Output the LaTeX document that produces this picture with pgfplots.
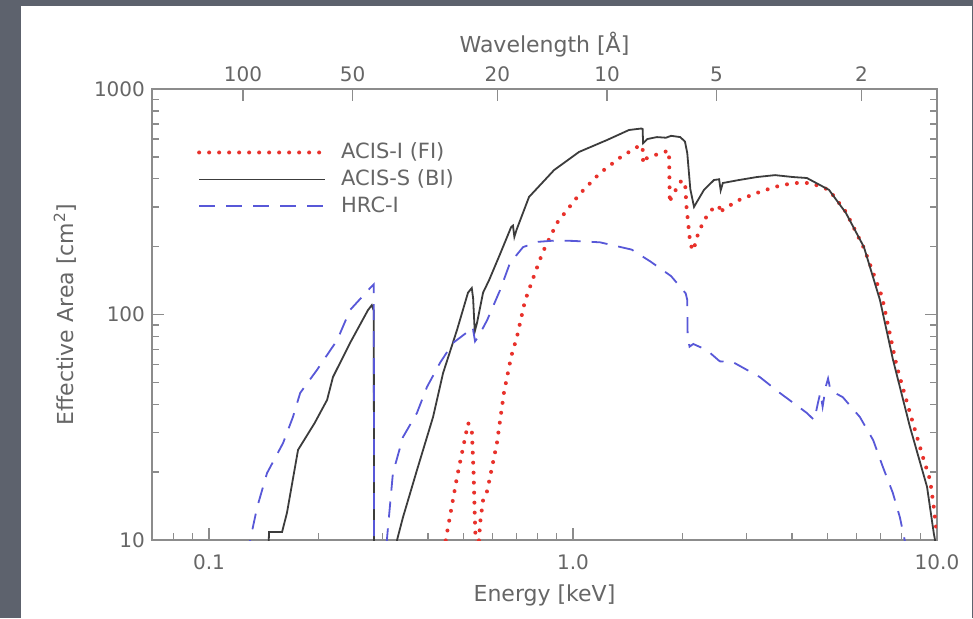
\documentclass[border=0pt]{standalone}
\usepackage{fontspec}
\setmainfont{DejaVu Sans}
\usepackage{pgfplots}
\pgfplotsset{compat=1.18}
\definecolor{bgslate}{HTML}{5D626D}
\definecolor{txtg}{HTML}{666666}
\definecolor{axg}{HTML}{8C8C8C}
\definecolor{redc}{HTML}{E8312B}
\definecolor{bluec}{HTML}{5858D8}
\definecolor{blk}{HTML}{3C3C3C}

\pgfplotstableread{
E A
0.1455 9.0
0.1462 10.85
0.1587 10.85
0.1637 13.2
0.1756 25.1
0.195 33
0.211 41.8
0.219 52.8
0.244 74.8
0.2734 104.7
0.2800 110
0.2835 104
0.2842 5
0.3255 5
0.3285 10
0.341 12.6
0.3726 20.4
0.4125 35.1
0.4395 55
0.480 85.4
0.5146 125
0.527 131
0.5315 118
0.537 84
0.545 92
0.566 125
0.588 142
0.630 185
0.676 244
0.684 248
0.690 221
0.700 238
0.757 332
0.887 437
1.039 526
1.24 594
1.425 658
1.54 668
1.553 665
1.558 575
1.60 600
1.70 612
1.80 608
1.86 620
1.97 612
2.03 585
2.06 520
2.10 360
2.15 300
2.18 312
2.29 357
2.44 395
2.52 398
2.545 355
2.58 383
2.86 395
3.20 407
3.59 415
4.02 407
4.39 403
5.05 357
5.62 282
6.30 199
6.97 116
7.57 63
8.43 31.7
9.39 17.2
9.8 10.7
10 9
}\acisS

\pgfplotstableread{
E A
0.445 9
0.447 10
0.48 19
0.515 33
0.527 31
0.533 20
0.537 13
0.541 9
0.549 9
0.556 12
0.566 15
0.581 16.5
0.618 26.9
0.646 45
0.676 65
0.702 80
0.738 115
0.80 165
0.827 190
0.904 255
1.039 340
1.186 424
1.355 500
1.50 553
1.553 560
1.558 468
1.58 490
1.627 500
1.78 526
1.835 532
1.840 407
1.845 312
1.86 330
1.99 395
2.035 368
2.05 300
2.10 205
2.14 192
2.20 225
2.29 262
2.44 300
2.52 302
2.545 280
2.58 292
2.86 322
3.2 346
3.59 368
4.02 383
4.5 383
5.05 357
5.62 285
6.3 197
7.06 120
7.76 58.5
8.43 36.6
9.15 23.3
9.57 18.5
9.8 14
10 10.5
}\acisI

\pgfplotstableread{
E A
0.128 8.5
0.1297 10
0.1356 14
0.1443 19.8
0.1597 26.9
0.170 35.1
0.178 44.9
0.198 56.8
0.225 77.1
0.244 104.7
0.277 131
0.2835 136
0.2842 5
0.304 5
0.308 10
0.320 19.8
0.341 28.6
0.3726 36.6
0.397 47.7
0.431 61
0.468 74.8
0.521 85.3
0.530 88
0.538 76
0.55 80
0.581 94.5
0.630 128
0.671 169
0.729 199
0.80 210
0.90 213
1.00 212
1.186 209
1.45 194
1.63 172
1.86 148
2.04 124
2.06 116
2.065 80
2.09 72
2.14 74
2.33 69.6
2.53 62
2.75 61.5
3.26 52.8
3.70 44.9
4.39 36.6
4.6 34
4.7 40
4.78 45
4.85 39
4.95 48
5.02 52
5.1 46
5.51 43
6.14 35.1
6.68 27.7
7.1 21.1
7.56 16.2
7.91 12.6
8.15 10
8.25 9
}\hrcI

\pgfplotsset{
  commonax/.style={
    at={(76pt,39pt)}, anchor=south west,
    scale only axis, width=392.5pt, height=225.5pt,
    axis line style={axg, line width=0.8pt},
    every tick/.style={axg, line width=0.7pt},
    tick align=inside,
    major tick length=6pt, minor tick length=3.5pt,
    tick label style={font=\fontsize{10}{12}\selectfont, text=txtg},
    label style={font=\fontsize{11}{13}\selectfont, text=txtg},
    /pgf/number format/assume math mode=true,
  }
}

\begin{document}
\begin{tikzpicture}
\fill[bgslate] (0pt,0pt) rectangle (486.5pt,309pt);
\fill[white] (10.5pt,0pt) rectangle (486pt,306pt);

\begin{axis}[commonax,
  xmode=log, ymode=log,
  xmin=0.0697, xmax=10, ymin=10, ymax=1000,
  xtick={0.1,1,10}, xticklabels={0.1,1.0,10.0},
  minor xtick={0.08,0.09,0.2,0.3,0.4,0.5,0.6,0.7,0.8,0.9,2,3,4,5,6,7,8,9},
  ytick={10,100,1000}, yticklabels={10,100,1000},
  minor ytick={20,30,40,50,60,70,80,90,200,300,400,500,600,700,800,900},
  xtick pos=left, ytick pos=both,
  xticklabel style={yshift=-4pt},
  xlabel={Energy [keV]},
  xlabel style={at={(axis description cs:0.5,-0.122)}, anchor=center},
  ylabel={Effective Area [cm\textsuperscript{2}]},
  ylabel style={at={(axis description cs:-0.111,0.5)}, anchor=center},
  legend cell align=left,
  legend image code/.code={\draw[#1] (0pt,0pt) -- (63pt,0pt);},
  legend style={draw=none, fill=none, at={(0.057,0.89)}, anchor=north west,
    font=\fontsize{10.5}{12}\selectfont, text=txtg, row sep=0pt, column sep=5pt, inner sep=0pt},
]
\addplot[redc, line width=2pt, dash pattern=on 0pt off 5pt, line cap=round] table[x=E,y=A] {\acisI};
\addlegendentry{ACIS-I (FI)}
\addplot[blk, line width=0.9pt] table[x=E,y=A] {\acisS};
\addlegendentry{ACIS-S (BI)}
\addplot[bluec, line width=0.9pt, dash pattern=on 8pt off 5.5pt] table[x=E,y=A] {\hrcI};
\addlegendentry{HRC-I}
\end{axis}

\begin{axis}[commonax,
  xmode=log, xmin=1.2398, xmax=177.9, x dir=reverse,
  ymin=0, ymax=1,
  axis x line*=top, axis y line=none,
  xtick={2,5,10,20,50,100}, xticklabels={2,5,10,20,50,100},
  xlabel={Wavelength [Å]},
  xlabel style={at={(axis description cs:0.5,1.098)}, anchor=center},
]
\addplot[draw=none] coordinates {(2,0.5)};
\end{axis}
\end{tikzpicture}
\end{document}
